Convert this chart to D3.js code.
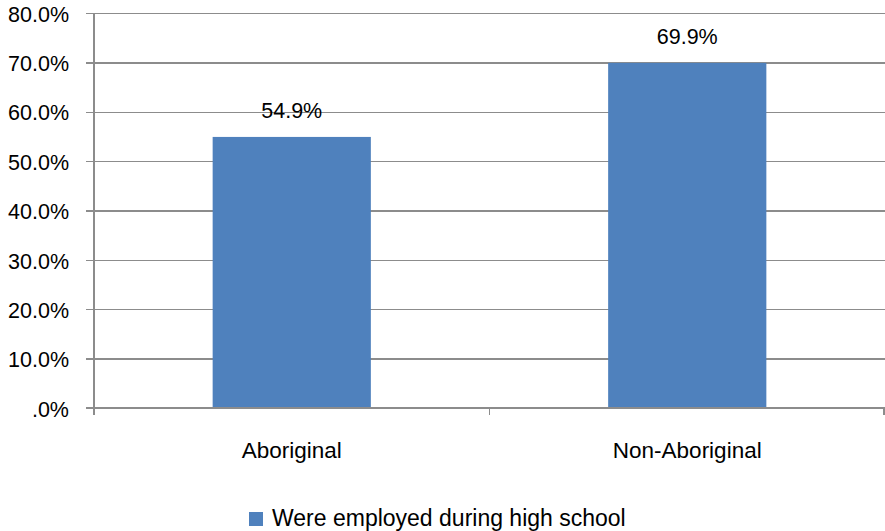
<!DOCTYPE html>
<html>
<head>
<meta charset="utf-8">
<script src="https://cdn.jsdelivr.net/npm/d3@7"></script>
<style>
  html, body { margin: 0; padding: 0; background: #fff; }
  svg text { font-family: "Liberation Sans", "Open Sans", sans-serif; fill: #000; }
</style>
</head>
<body>
<svg id="chart" width="885" height="531"></svg>
<script>
// Share of students employed during high school, by group
const categories = ["Aboriginal", "Non-Aboriginal"];
const values = [0.549, 0.699];
const valueLabels = ["54.9%", "69.9%"];
const yTicks = [0, 0.1, 0.2, 0.3, 0.4, 0.5, 0.6, 0.7, 0.8];
const yTickLabels = [".0%", "10.0%", "20.0%", "30.0%", "40.0%", "50.0%", "60.0%", "70.0%", "80.0%"];
const seriesName = "Were employed during high school";

const barColor = "#4F81BD";
const gridColor = "#8c8c8c";
const fontSize = "21.5px";

const plot = { left: 94, right: 885, top: 13, bottom: 408 };

const svg = d3.select("#chart");

const y = d3.scaleLinear().domain([0, 0.8]).range([plot.bottom, plot.top]);
const x = d3.scaleBand()
  .domain(categories)
  .range([plot.left, plot.right])
  .paddingInner(0.6)
  .paddingOuter(0.3);

// Horizontal gridlines with left tick marks
const yAxis = d3.axisLeft(y)
  .tickValues(yTicks)
  .tickSize(-(plot.right - plot.left) - 8)
  .tickFormat((d, i) => yTickLabels[i]);

const gy = svg.append("g")
  .attr("transform", `translate(${plot.left - 8},0)`)
  .call(yAxis)
  .attr("font-family", null)
  .attr("font-size", null);
gy.select(".domain").remove();
gy.selectAll(".tick line")
  .attr("stroke", gridColor)
  .attr("stroke-width", 1.3)
  .attr("shape-rendering", "crispEdges");
gy.selectAll(".tick text")
  .attr("x", -17)
  .attr("dy", "0.38em")
  .style("font-size", fontSize)
  .attr("fill", "#000");

// Vertical axis line
svg.append("line")
  .attr("x1", plot.left).attr("x2", plot.left)
  .attr("y1", plot.top).attr("y2", plot.bottom)
  .attr("stroke", gridColor)
  .attr("stroke-width", 1.3)
  .attr("shape-rendering", "crispEdges");

// Bars
svg.append("g").selectAll("rect")
  .data(categories)
  .join("rect")
  .attr("x", d => x(d))
  .attr("width", x.bandwidth())
  .attr("y", (d, i) => y(values[i]))
  .attr("height", (d, i) => y(0) - y(values[i]))
  .attr("fill", barColor);

// Value labels above bars
svg.append("g").selectAll("text")
  .data(categories)
  .join("text")
  .attr("x", d => x(d) + x.bandwidth() / 2)
  .attr("y", (d, i) => y(values[i]) - 19)
  .attr("text-anchor", "middle")
  .style("font-size", fontSize)
  .text((d, i) => valueLabels[i]);

// Category axis: baseline with ticks at band boundaries
const step = x.step();
const boundaries = d3.range(categories.length + 1).map(i => plot.left + i * step);
svg.append("line")
  .attr("x1", plot.left - 8).attr("x2", plot.right)
  .attr("y1", y(0)).attr("y2", y(0))
  .attr("stroke", gridColor)
  .attr("stroke-width", 1.3)
  .attr("shape-rendering", "crispEdges");
svg.append("g").selectAll("line")
  .data(boundaries)
  .join("line")
  .attr("x1", d => Math.min(d, plot.right - 1)).attr("x2", d => Math.min(d, plot.right - 1))
  .attr("y1", y(0)).attr("y2", y(0) + 7)
  .attr("stroke", gridColor)
  .attr("stroke-width", 1.3)
  .attr("shape-rendering", "crispEdges");

svg.append("g").selectAll("text")
  .data(categories)
  .join("text")
  .attr("x", d => x(d) + x.bandwidth() / 2)
  .attr("y", 458)
  .attr("text-anchor", "middle")
  .style("font-size", "22.5px")
  .text(d => d);

// Legend
const legend = svg.append("g");
legend.append("rect")
  .attr("x", 249).attr("y", 512)
  .attr("width", 14).attr("height", 14)
  .attr("fill", barColor);
legend.append("text")
  .attr("x", 272).attr("y", 526)
  .style("font-size", "23px")
  .text(seriesName);
</script>
</body>
</html>
